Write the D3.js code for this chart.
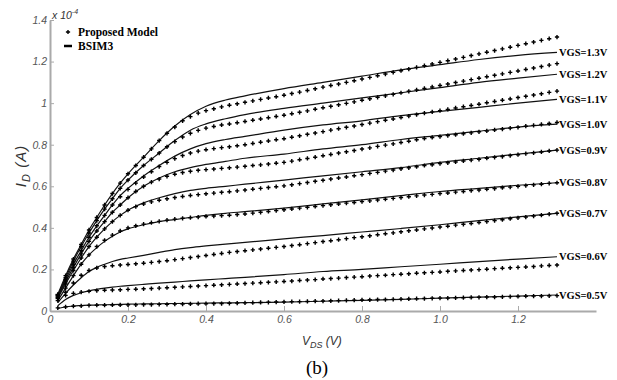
<!DOCTYPE html>
<html>
<head>
<meta charset="utf-8">
<script src="https://cdn.jsdelivr.net/npm/d3@7"></script>
<style>
    html, body { margin: 0; padding: 0; background: #fff; overflow: hidden; }
    svg { display: block; }
    .axis text { font-family: 'Liberation Sans', Arial, sans-serif; font-style: italic; font-size: 10.5px; fill: #555; }
    .axis path, .axis line { stroke: #aaa; }
    .serif { font-family: 'Liberation Serif', 'Times New Roman', serif; }
    .sans-it { font-family: 'Liberation Sans', Arial, sans-serif; font-style: italic; fill: #333; }
</style>
</head>
<body>
<div id="chart"></div>
<script>
// VDS sweep of the proposed model (one marker every 20 mV)
const vds = [0.02,0.04,0.06,0.08,0.10,0.12,0.14,0.16,0.18,0.20,0.22,0.24,0.26,0.28,0.30,0.32,0.34,0.36,0.38,0.40,0.42,0.44,0.46,0.48,0.50,0.52,0.54,0.56,0.58,0.60,
    0.62,0.64,0.66,0.68,0.70,0.72,0.74,0.76,0.78,0.80,0.82,0.84,0.86,0.88,0.90,0.92,0.94,0.96,
    0.98,1.00,1.02,1.04,1.06,1.08,1.10,1.12,1.14,1.16,1.18,1.20,1.22,1.24,1.26,1.28,1.30];

// proposed model, ID in units of 1e-4 A
const model05 = [.015,.020,.023,.025,.027,.028,.028,.029,.029,.030,.030,.031,.031,.032,.032,.033,.033,.034,.035,.035,.036,.036,.037,.038,.039,.040,.041,.042,.043,.044,
    .045,.045,.046,.047,.048,.049,.050,.051,.052,.053,.054,.055,.055,.056,.057,.058,.059,.060,
    .061,.062,.062,.063,.064,.065,.066,.067,.067,.068,.069,.070,.071,.072,.072,.073,.074];
const model06 = [.050,.075,.085,.091,.095,.098,.100,.101,.102,.104,.105,.107,.108,.110,.112,.114,.116,.118,.120,.122,.124,.126,.128,.130,.132,.134,.136,.138,.140,.142,
    .144,.147,.149,.151,.154,.156,.158,.161,.163,.165,.168,.170,.172,.175,.177,.179,.182,.184,
    .186,.188,.191,.193,.195,.197,.199,.201,.204,.206,.208,.210,.212,.214,.217,.219,.221];
const model07 = [.060,.090,.135,.172,.195,.207,.214,.218,.221,.224,.227,.230,.234,.238,.242,.247,.252,.257,.262,.267,.272,.277,.282,.286,.290,.294,.298,.302,.306,.310,
    .315,.319,.324,.329,.334,.338,.343,.348,.353,.357,.362,.367,.372,.376,.381,.386,.390,.395,
    .399,.404,.408,.413,.417,.421,.426,.430,.435,.439,.444,.448,.452,.457,.461,.466,.470];
const model08 = [.064,.110,.170,.225,.270,.310,.340,.365,.385,.400,.410,.418,.425,.431,.437,.442,.446,.449,.452,.455,.457,.459,.461,.464,.467,.471,.475,.479,.483,.487,
    .491,.495,.499,.503,.507,.511,.515,.519,.522,.526,.530,.534,.538,.542,.546,.550,.554,.558,
    .561,.565,.568,.572,.575,.579,.582,.586,.589,.593,.596,.600,.603,.607,.610,.614,.617];
const model09 = [.068,.130,.195,.255,.310,.355,.395,.430,.460,.485,.502,.515,.525,.533,.540,.546,.551,.556,.560,.564,.567,.571,.574,.578,.582,.586,.590,.594,.598,.602,
    .607,.613,.618,.624,.629,.635,.640,.645,.651,.656,.662,.667,.673,.678,.684,.689,.694,.700,
    .704,.709,.713,.717,.722,.726,.730,.735,.739,.743,.748,.752,.757,.761,.765,.770,.774];
const model10 = [.072,.140,.210,.275,.335,.385,.430,.475,.510,.545,.575,.600,.620,.635,.648,.658,.666,.672,.677,.680,.683,.686,.689,.692,.696,.700,.703,.707,.711,.715,
    .721,.728,.734,.740,.747,.753,.760,.766,.772,.779,.785,.792,.798,.804,.811,.817,.824,.830,
    .835,.839,.844,.848,.853,.857,.862,.866,.871,.875,.880,.884,.889,.893,.898,.902,.907];
const model11 = [.075,.150,.225,.290,.355,.410,.460,.510,.550,.585,.615,.645,.670,.695,.715,.733,.748,.760,.769,.776,.781,.786,.790,.795,.800,.806,.812,.818,.824,.829,
    .836,.843,.850,.856,.863,.870,.877,.884,.890,.897,.904,.911,.918,.924,.931,.938,.945,.952,
    .958,.964,.970,.977,.983,.989,.995,1.002,1.008,1.014,1.020,1.027,1.033,1.039,1.045,1.052,1.058];
const model12 = [.078,.160,.240,.310,.375,.435,.490,.540,.590,.630,.665,.700,.730,.760,.790,.815,.837,.855,.869,.880,.888,.895,.900,.906,.912,.918,.924,.930,.936,.942,
    .949,.956,.963,.971,.978,.985,.992,.999,1.006,1.014,1.021,1.028,1.035,1.042,1.050,1.057,1.064,1.071,
    1.078,1.085,1.092,1.099,1.106,1.113,1.120,1.127,1.134,1.141,1.148,1.155,1.162,1.169,1.176,1.183,1.190];
const model13 = [.080,.170,.250,.320,.390,.450,.510,.565,.615,.660,.700,.740,.780,.820,.855,.885,.915,.935,.952,.964,.973,.982,.990,.997,1.004,1.011,1.018,1.025,1.031,1.038,
    1.046,1.053,1.061,1.069,1.077,1.085,1.092,1.100,1.108,1.116,1.124,1.132,1.140,1.148,1.156,1.164,1.172,1.180,
    1.188,1.196,1.204,1.212,1.220,1.229,1.237,1.245,1.253,1.261,1.269,1.278,1.286,1.294,1.302,1.310,1.318];

// BSIM3 reference curves
const vdsLine = [0.02,0.04,0.06,0.08,0.10,0.12,0.14,0.16,0.18,0.20,0.24,0.28,0.32,0.36,0.40,0.45,0.50,0.60,0.70,0.80,0.90,1.00,1.10,1.20,1.30];
const bsim05 = [.012,.020,.024,.026,.028,.029,.030,.031,.032,.033,.034,.035,.036,.037,.038,.039,.040,.043,.047,.051,.056,.062,.067,.072,.077];
const bsim06 = [.025,.055,.075,.088,.097,.104,.110,.115,.119,.122,.128,.134,.139,.145,.150,.156,.162,.175,.190,.200,.213,.225,.238,.250,.261];
const bsim07 = [.040,.085,.125,.160,.190,.210,.225,.238,.248,.255,.268,.282,.295,.305,.313,.322,.330,.347,.363,.380,.397,.415,.435,.453,.470];
const bsim08 = [.050,.110,.170,.225,.270,.305,.335,.360,.380,.395,.415,.430,.440,.450,.460,.470,.478,.495,.515,.535,.555,.575,.590,.605,.617];
const bsim09 = [.060,.130,.195,.255,.310,.355,.395,.430,.460,.485,.520,.545,.565,.580,.590,.600,.610,.630,.650,.670,.690,.715,.735,.755,.774];
const bsim10 = [.065,.140,.210,.275,.335,.385,.430,.475,.510,.545,.600,.640,.670,.690,.705,.720,.735,.755,.780,.800,.825,.845,.865,.885,.899];
const bsim11 = [.070,.150,.225,.290,.355,.410,.460,.510,.555,.590,.650,.700,.745,.780,.805,.825,.840,.870,.895,.915,.940,.960,.980,1.000,1.018];
const bsim12 = [.075,.160,.240,.310,.375,.435,.490,.540,.590,.630,.700,.760,.820,.870,.900,.925,.945,.975,1.000,1.025,1.050,1.075,1.100,1.120,1.139];
const bsim13 = [.080,.170,.250,.320,.390,.450,.510,.565,.615,.660,.740,.820,.890,.945,.985,1.015,1.035,1.070,1.100,1.130,1.160,1.185,1.210,1.230,1.244];

const vgsLabels = ['VGS=0.5V','VGS=0.6V','VGS=0.7V','VGS=0.8V','VGS=0.9V','VGS=1.0V','VGS=1.1V','VGS=1.2V','VGS=1.3V'];
const modelSeries = [model05, model06, model07, model08, model09, model10, model11, model12, model13];
const bsimSeries = [bsim05, bsim06, bsim07, bsim08, bsim09, bsim10, bsim11, bsim12, bsim13];

const xTicks = [0, 0.2, 0.4, 0.6, 0.8, 1.0, 1.2];
const xTickLabels = ['0','0.2','0.4','0.6','0.8','1.0','1.2'];
const yTicks = [0, 0.2, 0.4, 0.6, 0.8, 1, 1.2, 1.4];
const yTickLabels = ['0','0.2','0.4','0.6','0.8','1','1.2','1.4'];
const legendLabels = ['Proposed Model', 'BSIM3'];

const styles = {
    width: 617,
    height: 380,
    margin: { top: 20, right: 21, bottom: 69, left: 50 }
};

const innerWidth = styles.width - styles.margin.left - styles.margin.right;
const innerHeight = styles.height - styles.margin.top - styles.margin.bottom;

const svg = d3.select('#chart')
    .append('svg')
    .attr('width', styles.width)
    .attr('height', styles.height);

const g = svg.append('g')
    .attr('transform', `translate(${styles.margin.left}, ${styles.margin.top})`);

const scaleX = d3.scaleLinear().domain([0, 1.4]).range([0, innerWidth]);
const scaleY = d3.scaleLinear().domain([0, 1.4]).range([innerHeight, 0]);

// axes, ticks pointing inwards
g.append('g')
    .attr('class', 'axis')
    .attr('transform', `translate(0, ${innerHeight})`)
    .call(d3.axisBottom(scaleX).tickValues(xTicks).tickFormat((d, i) => xTickLabels[i])
        .tickSizeInner(-5).tickSizeOuter(0).tickPadding(5));
g.append('g')
    .attr('class', 'axis')
    .call(d3.axisLeft(scaleY).tickValues(yTicks).tickFormat((d, i) => yTickLabels[i])
        .tickSizeInner(-4).tickSizeOuter(0).tickPadding(3));
g.selectAll('.axis .domain').attr('stroke-width', 2);

// BSIM3 lines
const line = d3.line()
    .x((d, i) => scaleX(vdsLine[i]))
    .y(d => scaleY(d))
    .curve(d3.curveMonotoneX);

g.selectAll('.bsim-line')
    .data(bsimSeries)
    .enter().append('path')
    .attr('class', 'bsim-line')
    .attr('fill', 'none')
    .attr('stroke', '#111')
    .attr('stroke-width', 1.2)
    .attr('d', line);

// proposed model markers
const cross = d3.symbol().type(d3.symbolCross).size(10);
modelSeries.forEach(series => {
    g.append('g').selectAll('path')
        .data(series)
        .enter().append('path')
        .attr('transform', (d, i) => `translate(${scaleX(vds[i])}, ${scaleY(d)})`)
        .attr('d', cross)
        .attr('fill', '#000');
});

// VGS labels at the end of each BSIM3 curve
g.selectAll('.vgs')
    .data(bsimSeries)
    .enter().append('text')
    .attr('class', 'vgs serif')
    .attr('x', scaleX(vdsLine[vdsLine.length - 1]) + 2)
    .attr('y', d => scaleY(d[d.length - 1]))
    .attr('dy', '0.35em')
    .attr('font-size', 10.5)
    .attr('font-weight', 'bold')
    .text((d, i) => vgsLabels[i]);

// legend, in page coordinates
svg.append('path')
    .attr('transform', 'translate(68, 32)')
    .attr('d', cross)
    .attr('fill', '#000');
svg.append('line')
    .attr('x1', 64).attr('x2', 72)
    .attr('y1', 46).attr('y2', 46)
    .attr('stroke', '#000')
    .attr('stroke-width', 2.5);
svg.selectAll('.legend')
    .data(legendLabels)
    .enter().append('text')
    .attr('class', 'legend serif')
    .attr('x', 78)
    .attr('y', (d, i) => 36 + i * 14)
    .attr('font-size', 11.5)
    .attr('font-weight', 'bold')
    .text(d => d);

// exponent
const expo = svg.append('text')
    .attr('class', 'sans-it')
    .attr('x', 52)
    .attr('y', 19)
    .attr('font-size', 10.5);
expo.append('tspan').text('x 10');
expo.append('tspan').attr('dy', -5).attr('font-size', 7).text('-4');

// axis titles
const yTitle = svg.append('text')
    .attr('class', 'sans-it')
    .attr('transform', 'translate(26, 166) rotate(-90)')
    .attr('text-anchor', 'middle')
    .attr('font-size', 15)
    .attr('letter-spacing', 1);
yTitle.append('tspan').text('I');
yTitle.append('tspan').attr('dy', 4).attr('font-size', 11).text('D');
yTitle.append('tspan').attr('dy', -4).text(' (A)');

const xTitle = svg.append('text')
    .attr('class', 'sans-it')
    .attr('x', 302)
    .attr('y', 345)
    .attr('font-size', 12);
xTitle.append('tspan').text('V');
xTitle.append('tspan').attr('dy', 3).attr('font-size', 9).text('DS');
xTitle.append('tspan').attr('dy', -3).text(' (V)');

svg.append('text')
    .attr('class', 'serif')
    .attr('x', 317)
    .attr('y', 374)
    .attr('text-anchor', 'middle')
    .attr('font-size', 19)
    .text('(b)');
</script>
</body>
</html>
